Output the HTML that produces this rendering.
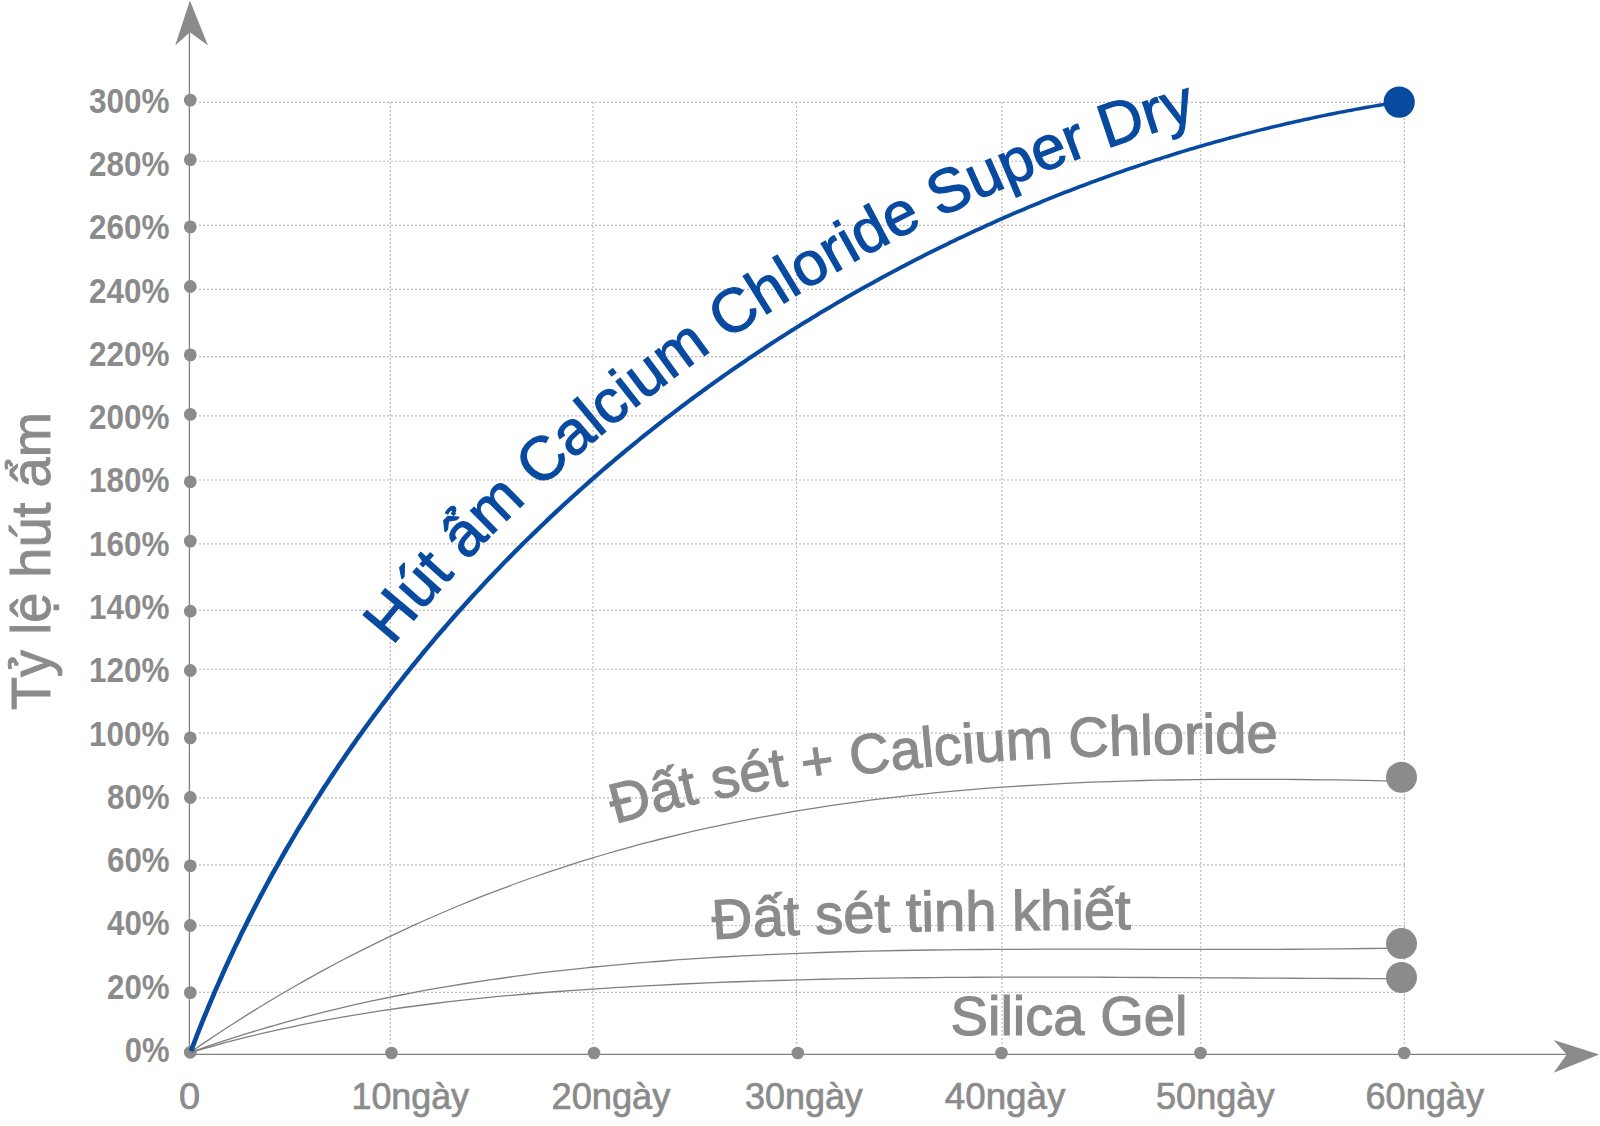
<!DOCTYPE html>
<html lang="vi"><head><meta charset="utf-8"><title>Tỷ lệ hút ẩm</title>
<style>html,body{margin:0;padding:0;background:#fff}svg{display:block}</style></head>
<body>
<svg width="1600" height="1126" viewBox="0 0 1600 1126">
<rect width="1600" height="1126" fill="#fff"/>
<g stroke="#bcbcbc" stroke-width="1.15" stroke-dasharray="2 2" fill="none">
<line x1="199" y1="102.3" x2="1405" y2="102.3"/>
<line x1="199" y1="161.2" x2="1405" y2="161.2"/>
<line x1="199" y1="225.3" x2="1405" y2="225.3"/>
<line x1="199" y1="289.4" x2="1405" y2="289.4"/>
<line x1="199" y1="356.6" x2="1405" y2="356.6"/>
<line x1="199" y1="415.8" x2="1405" y2="415.8"/>
<line x1="199" y1="480.0" x2="1405" y2="480.0"/>
<line x1="199" y1="543.8" x2="1405" y2="543.8"/>
<line x1="199" y1="610.4" x2="1405" y2="610.4"/>
<line x1="199" y1="669.2" x2="1405" y2="669.2"/>
<line x1="199" y1="733.1" x2="1405" y2="733.1"/>
<line x1="199" y1="797.9" x2="1405" y2="797.9"/>
<line x1="199" y1="864.8" x2="1405" y2="864.8"/>
<line x1="199" y1="925.5" x2="1405" y2="925.5"/>
<line x1="199" y1="992.3" x2="1405" y2="992.3"/>
<line x1="390.3" y1="102" x2="390.3" y2="1046"/>
<line x1="593.0" y1="102" x2="593.0" y2="1046"/>
<line x1="796.5" y1="102" x2="796.5" y2="1046"/>
<line x1="1002.0" y1="102" x2="1002.0" y2="1046"/>
<line x1="1200.8" y1="102" x2="1200.8" y2="1046"/>
<line x1="1404.4" y1="102" x2="1404.4" y2="1046"/>
</g>
<g stroke="#808080" stroke-width="1.3" fill="none">
<line x1="189.4" y1="30" x2="189.4" y2="1054"/>
<line x1="189" y1="1054.35" x2="1568" y2="1054.35"/>
</g>
<g fill="#8b8b8b">
<path d="M189.9 0.5L208 45.5L189.9 32.3L175.2 45.5Z"/>
<path d="M1599.2 1054.4L1553.7 1040L1566.7 1054.4L1553.7 1072.7Z"/>
<circle cx="190.3" cy="100.1" r="6.4"/>
<circle cx="190.3" cy="159.7" r="6.4"/>
<circle cx="190.3" cy="226.9" r="6.4"/>
<circle cx="190.3" cy="286.5" r="6.4"/>
<circle cx="190.3" cy="354.9" r="6.4"/>
<circle cx="190.3" cy="414.4" r="6.4"/>
<circle cx="190.3" cy="481.8" r="6.4"/>
<circle cx="190.3" cy="541.1" r="6.4"/>
<circle cx="190.3" cy="611.2" r="6.4"/>
<circle cx="190.3" cy="670.5" r="6.4"/>
<circle cx="190.3" cy="737.9" r="6.4"/>
<circle cx="190.3" cy="797.5" r="6.4"/>
<circle cx="190.3" cy="865.8" r="6.4"/>
<circle cx="190.3" cy="925.5" r="6.4"/>
<circle cx="190.3" cy="992.6" r="6.4"/>
<circle cx="190.3" cy="1052.3" r="6.4"/>
<circle cx="391.5" cy="1053" r="6.3"/>
<circle cx="594.0" cy="1053" r="6.3"/>
<circle cx="797.8" cy="1053" r="6.3"/>
<circle cx="1001.5" cy="1053" r="6.3"/>
<circle cx="1200.5" cy="1053" r="6.3"/>
<circle cx="1404.2" cy="1053" r="6.3"/>
</g>
<g stroke="#808080" stroke-width="1.3" fill="none">
<path d="M190.0 1052.5C193.6 1050.1 204.3 1042.7 211.5 1037.9C218.7 1033.1 225.9 1028.3 233.2 1023.7C240.5 1019.0 247.8 1014.4 255.1 1009.9C262.5 1005.3 269.9 1000.9 277.3 996.5C284.7 992.1 292.2 987.8 299.7 983.5C307.1 979.2 314.7 975.1 322.2 970.9C329.8 966.8 337.4 962.8 345.0 958.8C352.7 954.8 360.3 950.9 368.0 947.1C375.7 943.3 383.4 939.5 391.2 935.8C399.0 932.1 406.8 928.5 414.6 924.9C422.4 921.4 430.2 917.9 438.1 914.5C446.0 911.1 453.9 907.7 461.8 904.5C469.8 901.2 477.7 898.0 485.7 894.9C493.7 891.8 501.7 888.7 509.8 885.8C517.8 882.8 525.9 879.9 534.0 877.0C542.0 874.2 550.2 871.4 558.3 868.8C566.4 866.1 574.6 863.5 582.8 860.9C591.0 858.4 599.2 855.9 607.4 853.5C615.6 851.1 623.9 848.8 632.1 846.6C640.4 844.3 648.7 842.2 657.0 840.0C665.3 837.9 673.6 835.9 681.9 833.9C690.3 831.9 698.7 830.0 707.0 828.2C715.4 826.4 723.8 824.6 732.2 822.9C740.6 821.1 749.0 819.5 757.5 817.9C765.9 816.3 774.4 814.8 782.8 813.3C791.3 811.8 799.8 810.4 808.3 809.1C816.8 807.7 825.3 806.4 833.8 805.2C842.3 803.9 850.8 802.7 859.4 801.6C867.9 800.5 876.5 799.4 885.0 798.3C893.6 797.3 902.2 796.3 910.7 795.4C919.3 794.5 927.9 793.6 936.5 792.7C945.1 791.9 953.7 791.1 962.3 790.4C970.9 789.6 979.5 788.9 988.1 788.2C996.7 787.6 1005.3 787.0 1014.0 786.4C1022.6 785.8 1031.2 785.3 1039.9 784.8C1048.5 784.3 1057.1 783.8 1065.8 783.4C1074.4 783.0 1083.0 782.6 1091.7 782.2C1100.3 781.9 1108.9 781.6 1117.6 781.3C1126.2 781.0 1134.9 780.8 1143.5 780.5C1152.1 780.3 1160.8 780.1 1169.4 780.0C1178.0 779.8 1186.6 779.7 1195.3 779.6C1203.9 779.5 1212.5 779.4 1221.1 779.4C1229.7 779.3 1238.4 779.3 1247.0 779.3C1255.6 779.3 1264.2 779.3 1272.8 779.3C1281.4 779.4 1289.9 779.4 1298.5 779.5C1307.1 779.6 1315.7 779.7 1324.2 779.8C1332.8 779.9 1341.3 780.0 1349.9 780.2C1358.4 780.3 1367.0 780.5 1375.5 780.6C1384.0 780.8 1396.7 781.1 1401.0 781.2"/>
<path d="M190.0 1052.5C195.0 1050.8 209.9 1045.5 219.8 1042.2C229.8 1038.9 239.8 1035.7 249.8 1032.6C259.8 1029.6 269.8 1026.6 279.8 1023.8C289.9 1021.0 300.0 1018.2 310.0 1015.6C320.1 1013.0 330.2 1010.5 340.4 1008.1C350.5 1005.7 360.6 1003.4 370.8 1001.2C380.9 999.1 391.1 997.0 401.3 995.0C411.5 993.0 421.7 991.0 431.9 989.2C442.2 987.4 452.4 985.7 462.7 984.0C472.9 982.4 483.2 980.8 493.5 979.3C503.8 977.8 514.1 976.4 524.4 975.1C534.7 973.7 545.0 972.4 555.4 971.2C565.7 970.0 576.0 968.9 586.4 967.8C596.8 966.8 607.1 965.7 617.5 964.8C627.9 963.8 638.3 962.9 648.7 962.1C659.1 961.2 669.5 960.5 679.9 959.7C690.3 959.0 700.8 958.3 711.2 957.6C721.6 957.0 732.1 956.4 742.5 955.9C753.0 955.3 763.4 954.8 773.9 954.3C784.3 953.9 794.8 953.5 805.3 953.1C815.8 952.7 826.2 952.3 836.7 952.0C847.2 951.7 857.7 951.4 868.2 951.2C878.6 950.9 889.1 950.7 899.6 950.5C910.1 950.3 920.6 950.1 931.1 950.0C941.6 949.9 952.1 949.7 962.6 949.6C973.1 949.5 983.6 949.5 994.1 949.4C1004.6 949.3 1015.1 949.3 1025.6 949.3C1036.1 949.2 1046.5 949.2 1057.0 949.2C1067.5 949.2 1078.0 949.2 1088.5 949.2C1099.0 949.2 1109.5 949.2 1119.9 949.2C1130.4 949.3 1140.9 949.3 1151.3 949.3C1161.8 949.3 1172.3 949.3 1182.7 949.4C1193.2 949.4 1203.6 949.4 1214.1 949.4C1224.5 949.4 1234.9 949.4 1245.3 949.4C1255.8 949.4 1266.2 949.3 1276.6 949.3C1287.0 949.3 1297.4 949.2 1307.8 949.2C1318.2 949.1 1328.6 949.0 1338.9 948.9C1349.3 948.8 1359.7 948.7 1370.0 948.5C1380.3 948.4 1395.8 948.1 1401.0 948.0"/>
<path d="M190.0 1052.5C195.0 1051.1 210.2 1046.7 220.3 1044.0C230.3 1041.2 240.5 1038.7 250.6 1036.2C260.7 1033.7 270.9 1031.4 281.0 1029.2C291.2 1027.0 301.3 1024.8 311.5 1022.8C321.7 1020.8 331.9 1019.0 342.1 1017.2C352.3 1015.4 362.5 1013.7 372.8 1012.1C383.0 1010.5 393.2 1009.0 403.5 1007.5C413.7 1006.1 424.0 1004.8 434.3 1003.5C444.5 1002.2 454.8 1001.0 465.1 999.9C475.4 998.8 485.7 997.7 496.0 996.7C506.3 995.8 516.7 994.8 527.0 994.0C537.3 993.1 547.7 992.3 558.0 991.5C568.4 990.7 578.7 990.0 589.1 989.3C599.4 988.6 609.8 987.9 620.2 987.3C630.5 986.7 640.9 986.1 651.3 985.6C661.7 985.0 672.1 984.5 682.5 984.0C692.9 983.5 703.3 983.1 713.7 982.7C724.1 982.2 734.5 981.8 744.9 981.5C755.4 981.1 765.8 980.8 776.2 980.5C786.6 980.2 797.1 979.9 807.5 979.6C817.9 979.4 828.4 979.1 838.8 978.9C849.2 978.7 859.7 978.5 870.1 978.3C880.6 978.2 891.0 978.0 901.4 977.9C911.9 977.8 922.3 977.7 932.8 977.6C943.2 977.5 953.7 977.4 964.1 977.3C974.5 977.3 985.0 977.2 995.4 977.2C1005.9 977.2 1016.3 977.1 1026.8 977.1C1037.2 977.1 1047.6 977.1 1058.1 977.1C1068.5 977.1 1079.0 977.2 1089.4 977.2C1099.8 977.2 1110.3 977.3 1120.7 977.3C1131.1 977.4 1141.5 977.4 1152.0 977.5C1162.4 977.5 1172.8 977.6 1183.2 977.6C1193.6 977.7 1204.0 977.8 1214.4 977.8C1224.8 977.9 1235.2 977.9 1245.6 978.0C1256.0 978.1 1266.4 978.1 1276.8 978.2C1287.2 978.2 1297.5 978.3 1307.9 978.3C1318.3 978.4 1328.6 978.4 1339.0 978.5C1349.3 978.5 1359.7 978.5 1370.0 978.6C1380.4 978.6 1395.8 978.6 1401.0 978.6"/>
</g>
<g fill="#8b8b8b">
<circle cx="1401.5" cy="777.3" r="15.5"/>
<circle cx="1401.5" cy="943.6" r="15.5"/>
<circle cx="1401.5" cy="977.5" r="15.5"/>
</g>
<path d="M188.8 1050.2L190.2 1046.4L191.7 1042.6L193.1 1038.9L194.6 1035.1L196.0 1031.3L197.5 1027.6L199.0 1023.8L200.5 1020.1L202.0 1016.3L203.6 1012.6L205.1 1008.9L206.6 1005.1L208.2 1001.4L209.8 997.7L211.4 994.0L212.9 990.3L214.6 986.6L216.2 982.9L217.8 979.2L219.4 975.5L221.1 971.8L222.7 968.1L224.4 964.4L226.1 960.8L227.8 957.1L229.5 953.5L231.2 949.8L232.9 946.1L234.7 942.5L236.4 938.9L238.2 935.2L239.9 931.6L241.7 928.0L243.5 924.4L245.3 920.7L247.1 917.1L248.9 913.5L250.8 909.9L252.6 906.3L254.5 902.8L256.3 899.2L258.2 895.6L260.1 892.0L262.0 888.5L263.9 884.9L265.8 881.4L267.7 877.8L269.7 874.3L271.6 870.7L273.6 867.2L275.6 863.7L277.5 860.2L279.5 856.7L281.5 853.1L283.5 849.6L285.6 846.1L287.6 842.7L289.6 839.2L291.7 835.7L293.7 832.2L295.8 828.8L297.9 825.3L300.0 821.8L302.1 818.4L304.2 815.0L306.3 811.5L308.4 808.1L310.6 804.7L312.7 801.3L314.9 797.8L317.1 794.4L319.2 791.0L321.4 787.6L323.6 784.3L325.8 780.9L328.0 777.5L330.3 774.1L332.5 770.8L334.8 767.4L337.0 764.1L339.3 760.7L341.6 757.4L343.8 754.1L346.1 750.8L348.4 747.4L350.7 744.1L353.1 740.8L355.4 737.5L357.7 734.2L360.1 731.0L362.4 727.7L364.8 724.4L367.2 721.2L369.6 717.9L372.0 714.6L374.4 711.4L376.8 708.2L379.2 704.9L381.6 701.7L384.1 698.5L386.5 695.3L389.0 692.1L391.5 688.9L393.9 685.7L396.4 682.5L398.9 679.4L401.4 676.2L403.9 673.0L406.4 669.9L409.0 666.7L411.5 663.6L414.1 660.5L416.6 657.3L419.2 654.2L421.7 651.1L424.3 648.0L426.9 644.9L429.5 641.8L432.1 638.7L434.7 635.6L437.3 632.6L440.0 629.5L442.6 626.5L445.3 623.4L447.9 620.4L450.6 617.3L453.2 614.3L455.9 611.3L458.6 608.3L461.3 605.3L464.0 602.3L466.7 599.3L469.4 596.3L472.2 593.3L474.9 590.4L477.7 587.4L480.4 584.5L483.2 581.5L485.9 578.6L488.7 575.6L491.5 572.7L494.3 569.8L497.1 566.9L499.9 564.0L502.7 561.1L505.5 558.2L508.3 555.3L511.2 552.5L514.0 549.6L516.9 546.7L519.7 543.9L522.6 541.1L525.5 538.2L528.4 535.4L531.3 532.6L534.2 529.8L537.1 527.0L540.0 524.2L542.9 521.4L545.8 518.6L548.7 515.8L551.7 513.1L554.6 510.3L557.6 507.6L560.6 504.8L563.5 502.1L566.5 499.4L569.5 496.6L572.5 493.9L575.5 491.2L578.5 488.5L581.5 485.9L584.5 483.2L587.5 480.5L590.6 477.8L593.6 475.2L596.7 472.5L599.7 469.9L602.8 467.3L605.8 464.6L608.9 462.0L612.0 459.4L615.1 456.8L618.2 454.2L621.3 451.6L624.4 449.1L627.5 446.5L630.6 443.9L633.7 441.4L636.9 438.9L640.0 436.3L643.1 433.8L646.3 431.3L649.5 428.8L652.6 426.3L655.8 423.8L659.0 421.3L662.2 418.8L665.4 416.3L668.5 413.9L671.8 411.4L675.0 409.0L678.2 406.5L681.4 404.1L684.6 401.7L687.9 399.3L691.1 396.8L694.3 394.5L697.6 392.1L700.9 389.7L704.1 387.3L707.4 384.9L710.7 382.6L714.0 380.2L717.2 377.9L720.5 375.6L723.8 373.2L727.1 370.9L730.5 368.6L733.8 366.3L737.1 364.0L740.4 361.8L743.8 359.5L747.1 357.2L750.4 355.0L753.8 352.7L757.2 350.5L760.5 348.3L763.9 346.0L767.3 343.8L770.6 341.6L774.0 339.4L777.4 337.2L780.8 335.0L784.2 332.9L787.6 330.7L791.0 328.6L794.4 326.4L797.9 324.3L801.3 322.1L804.7 320.0L808.2 317.9L811.6 315.8L815.1 313.7L818.5 311.6L822.0 309.6L825.4 307.5L828.9 305.4L832.4 303.4L835.9 301.3L839.4 299.3L842.8 297.3L846.3 295.3L849.8 293.3L853.3 291.3L856.9 289.3L860.4 287.3L863.9 285.3L867.4 283.4L871.0 281.4L874.5 279.5L878.0 277.5L881.6 275.6L885.1 273.7L888.7 271.8L892.2 269.9L895.8 268.0L899.4 266.1L902.9 264.2L906.5 262.3L910.1 260.5L913.7 258.6L917.3 256.8L920.9 255.0L924.5 253.1L928.1 251.3L931.7 249.5L935.3 247.7L938.9 245.9L942.5 244.2L946.2 242.4L949.8 240.6L953.4 238.9L957.1 237.1L960.7 235.4L964.4 233.7L968.0 232.0L971.7 230.3L975.3 228.6L979.0 226.9L982.7 225.2L986.3 223.5L990.0 221.9L993.7 220.2L997.4 218.6L1001.1 217.0L1004.8 215.3L1008.5 213.7L1012.2 212.1L1015.9 210.5L1019.6 208.9L1023.3 207.4L1027.0 205.8L1030.8 204.2L1034.5 202.7L1038.2 201.2L1041.9 199.6L1045.7 198.1L1049.4 196.6L1053.2 195.1L1056.9 193.6L1060.7 192.1L1064.4 190.6L1068.2 189.2L1071.9 187.7L1075.7 186.3L1079.5 184.8L1083.3 183.4L1087.0 182.0L1090.8 180.6L1094.6 179.2L1098.4 177.8L1102.2 176.4L1106.0 175.1L1109.8 173.7L1113.6 172.3L1117.4 171.0L1121.2 169.7L1125.0 168.3L1128.8 167.0L1132.6 165.7L1136.5 164.4L1140.3 163.2L1144.1 161.9L1147.9 160.6L1151.8 159.4L1155.6 158.1L1159.5 156.9L1163.3 155.7L1167.2 154.4L1171.0 153.2L1174.9 152.0L1178.7 150.8L1182.6 149.7L1186.4 148.5L1190.3 147.3L1194.2 146.2L1198.0 145.1L1201.9 143.9L1205.8 142.8L1209.7 141.7L1213.6 140.6L1217.4 139.5L1221.3 138.4L1225.2 137.4L1229.1 136.3L1233.0 135.3L1236.9 134.2L1240.8 133.2L1244.7 132.2L1248.6 131.2L1252.5 130.2L1256.4 129.2L1260.4 128.2L1264.3 127.2L1268.2 126.3L1272.1 125.3L1276.0 124.4L1280.0 123.5L1283.9 122.5L1287.8 121.6L1291.8 120.7L1295.7 119.8L1299.6 119.0L1303.6 118.1L1307.5 117.2L1311.5 116.4L1315.4 115.5L1319.3 114.7L1323.3 113.9L1327.3 113.1L1331.2 112.3L1335.2 111.5L1339.1 110.7L1343.1 110.0L1347.1 109.2L1351.0 108.5L1355.0 107.7L1359.0 107.0L1362.9 106.3L1366.9 105.6L1370.9 104.9L1374.8 104.2L1378.8 103.5L1382.8 102.9L1386.8 102.2L1390.8 101.6L1394.8 101.0L1398.7 100.3L1399.3 103.7L1395.3 104.3L1391.3 105.0L1387.3 105.6L1383.4 106.3L1379.4 106.9L1375.4 107.6L1371.5 108.3L1367.5 109.0L1363.5 109.7L1359.6 110.4L1355.6 111.1L1351.7 111.9L1347.7 112.6L1343.7 113.4L1339.8 114.1L1335.8 114.9L1331.9 115.7L1327.9 116.5L1324.0 117.3L1320.1 118.1L1316.1 119.0L1312.2 119.8L1308.3 120.7L1304.3 121.5L1300.4 122.4L1296.5 123.3L1292.5 124.2L1288.6 125.1L1284.7 126.0L1280.8 126.9L1276.9 127.8L1272.9 128.8L1269.0 129.7L1265.1 130.7L1261.2 131.6L1257.3 132.6L1253.4 133.6L1249.5 134.6L1245.6 135.6L1241.7 136.6L1237.8 137.7L1233.9 138.7L1230.0 139.8L1226.2 140.8L1222.3 141.9L1218.4 143.0L1214.5 144.1L1210.7 145.2L1206.8 146.3L1202.9 147.4L1199.1 148.5L1195.2 149.7L1191.3 150.8L1187.5 152.0L1183.6 153.1L1179.8 154.3L1175.9 155.5L1172.1 156.7L1168.3 157.9L1164.4 159.1L1160.6 160.4L1156.7 161.6L1152.9 162.8L1149.1 164.1L1145.3 165.4L1141.5 166.6L1137.6 167.9L1133.8 169.2L1130.0 170.5L1126.2 171.8L1122.4 173.2L1118.6 174.5L1114.8 175.8L1111.0 177.2L1107.2 178.5L1103.5 179.9L1099.7 181.3L1095.9 182.7L1092.1 184.1L1088.3 185.5L1084.6 186.9L1080.8 188.3L1077.1 189.8L1073.3 191.2L1069.5 192.7L1065.8 194.1L1062.0 195.6L1058.3 197.1L1054.6 198.6L1050.8 200.1L1047.1 201.6L1043.4 203.1L1039.7 204.7L1035.9 206.2L1032.2 207.7L1028.5 209.3L1024.8 210.9L1021.1 212.4L1017.4 214.0L1013.7 215.6L1010.0 217.2L1006.3 218.8L1002.6 220.5L999.0 222.1L995.3 223.7L991.6 225.4L987.9 227.0L984.3 228.7L980.6 230.4L977.0 232.1L973.3 233.8L969.7 235.5L966.0 237.2L962.4 238.9L958.7 240.6L955.1 242.4L951.5 244.1L947.9 245.9L944.2 247.7L940.6 249.4L937.0 251.2L933.4 253.0L929.8 254.8L926.2 256.6L922.6 258.4L919.1 260.3L915.5 262.1L911.9 264.0L908.3 265.8L904.8 267.7L901.2 269.6L897.6 271.4L894.1 273.3L890.5 275.2L887.0 277.1L883.5 279.1L879.9 281.0L876.4 282.9L872.9 284.9L869.4 286.8L865.8 288.8L862.3 290.8L858.8 292.7L855.3 294.7L851.8 296.7L848.3 298.7L844.8 300.7L841.4 302.8L837.9 304.8L834.4 306.8L831.0 308.9L827.5 310.9L824.0 313.0L820.6 315.1L817.2 317.2L813.7 319.3L810.3 321.4L806.9 323.5L803.4 325.6L800.0 327.7L796.6 329.8L793.2 332.0L789.8 334.1L786.4 336.3L783.0 338.5L779.6 340.6L776.2 342.8L772.9 345.0L769.5 347.2L766.1 349.4L762.8 351.7L759.4 353.9L756.1 356.1L752.7 358.4L749.4 360.6L746.1 362.9L742.7 365.2L739.4 367.4L736.1 369.7L732.8 372.0L729.5 374.3L726.2 376.6L722.9 378.9L719.6 381.3L716.4 383.6L713.1 386.0L709.8 388.3L706.6 390.7L703.3 393.0L700.1 395.4L696.8 397.8L693.6 400.2L690.3 402.6L687.1 405.0L683.9 407.4L680.7 409.8L677.5 412.3L674.3 414.7L671.1 417.2L667.9 419.6L664.7 422.1L661.6 424.6L658.4 427.1L655.2 429.6L652.1 432.1L648.9 434.6L645.8 437.1L642.6 439.6L639.5 442.1L636.4 444.7L633.3 447.2L630.2 449.8L627.1 452.3L624.0 454.9L620.9 457.5L617.8 460.1L614.7 462.7L611.7 465.3L608.6 467.9L605.5 470.5L602.5 473.1L599.4 475.8L596.4 478.4L593.4 481.1L590.4 483.7L587.3 486.4L584.3 489.0L581.3 491.7L578.3 494.4L575.3 497.1L572.4 499.8L569.4 502.5L566.4 505.3L563.5 508.0L560.5 510.7L557.6 513.5L554.6 516.2L551.7 519.0L548.8 521.7L545.9 524.5L543.0 527.3L540.1 530.1L537.2 532.9L534.3 535.7L531.4 538.5L528.5 541.3L525.7 544.1L522.8 547.0L520.0 549.8L517.1 552.7L514.3 555.5L511.5 558.4L508.6 561.3L505.8 564.1L503.0 567.0L500.2 569.9L497.4 572.8L494.7 575.7L491.9 578.7L489.1 581.6L486.4 584.5L483.6 587.4L480.9 590.4L478.1 593.3L475.4 596.3L472.7 599.3L470.0 602.3L467.3 605.2L464.6 608.2L461.9 611.2L459.2 614.2L456.6 617.2L453.9 620.3L451.2 623.3L448.6 626.3L446.0 629.4L443.3 632.4L440.7 635.5L438.1 638.5L435.5 641.6L432.9 644.7L430.3 647.7L427.7 650.8L425.2 653.9L422.6 657.0L420.1 660.2L417.5 663.3L415.0 666.4L412.4 669.5L409.9 672.7L407.4 675.8L404.9 679.0L402.4 682.1L399.9 685.3L397.5 688.5L395.0 691.6L392.5 694.8L390.1 698.0L387.7 701.2L385.2 704.4L382.8 707.6L380.4 710.9L378.0 714.1L375.6 717.3L373.2 720.6L370.8 723.8L368.5 727.1L366.1 730.3L363.8 733.6L361.4 736.9L359.1 740.1L356.8 743.4L354.5 746.7L352.2 750.0L349.9 753.3L347.6 756.6L345.3 760.0L343.0 763.3L340.8 766.6L338.5 770.0L336.3 773.3L334.1 776.7L331.8 780.0L329.6 783.4L327.4 786.7L325.3 790.1L323.1 793.5L320.9 796.9L318.7 800.3L316.6 803.7L314.4 807.1L312.3 810.5L310.2 813.9L308.1 817.4L306.0 820.8L303.9 824.2L301.8 827.7L299.7 831.1L297.7 834.6L295.6 838.0L293.6 841.5L291.6 845.0L289.5 848.5L287.5 851.9L285.5 855.4L283.5 858.9L281.5 862.4L279.6 865.9L277.6 869.4L275.7 873.0L273.7 876.5L271.8 880.0L269.9 883.6L268.0 887.1L266.1 890.6L264.2 894.2L262.3 897.8L260.4 901.3L258.6 904.9L256.7 908.5L254.9 912.0L253.1 915.6L251.3 919.2L249.5 922.8L247.7 926.4L245.9 930.0L244.1 933.6L242.3 937.3L240.6 940.9L238.9 944.5L237.1 948.1L235.4 951.8L233.7 955.4L232.0 959.1L230.3 962.7L228.6 966.4L227.0 970.0L225.3 973.7L223.7 977.4L222.1 981.1L220.4 984.7L218.8 988.4L217.2 992.1L215.7 995.8L214.1 999.5L212.5 1003.2L211.0 1006.9L209.4 1010.7L207.9 1014.4L206.4 1018.1L204.9 1021.8L203.4 1025.6L201.9 1029.3L200.4 1033.1L198.9 1036.8L197.5 1040.6L196.1 1044.3L194.6 1048.1L193.2 1051.8Z" fill="#084aa0"/>
<circle cx="1399.2" cy="102.1" r="15.6" fill="#084aa0"/>
<g font-family="'Liberation Sans', sans-serif" font-weight="bold" font-size="35" fill="#8b8b8b" text-anchor="end">
<text x="169.6" y="112.8" textLength="80.5" lengthAdjust="spacingAndGlyphs">300%</text>
<text x="169.6" y="176.1" textLength="80.5" lengthAdjust="spacingAndGlyphs">280%</text>
<text x="169.6" y="239.3" textLength="80.5" lengthAdjust="spacingAndGlyphs">260%</text>
<text x="169.6" y="302.6" textLength="80.5" lengthAdjust="spacingAndGlyphs">240%</text>
<text x="169.6" y="365.9" textLength="80.5" lengthAdjust="spacingAndGlyphs">220%</text>
<text x="169.6" y="429.2" textLength="80.5" lengthAdjust="spacingAndGlyphs">200%</text>
<text x="169.6" y="492.4" textLength="80.5" lengthAdjust="spacingAndGlyphs">180%</text>
<text x="169.6" y="555.7" textLength="80.5" lengthAdjust="spacingAndGlyphs">160%</text>
<text x="169.6" y="619.0" textLength="80.5" lengthAdjust="spacingAndGlyphs">140%</text>
<text x="169.6" y="682.2" textLength="80.5" lengthAdjust="spacingAndGlyphs">120%</text>
<text x="169.6" y="745.5" textLength="80.5" lengthAdjust="spacingAndGlyphs">100%</text>
<text x="169.6" y="808.8" textLength="62.6" lengthAdjust="spacingAndGlyphs">80%</text>
<text x="169.6" y="872.0" textLength="62.6" lengthAdjust="spacingAndGlyphs">60%</text>
<text x="169.6" y="935.3" textLength="62.6" lengthAdjust="spacingAndGlyphs">40%</text>
<text x="169.6" y="998.6" textLength="62.6" lengthAdjust="spacingAndGlyphs">20%</text>
<text x="169.6" y="1061.9" textLength="44.8" lengthAdjust="spacingAndGlyphs">0%</text>
</g>
<g font-family="'Liberation Sans', sans-serif" font-size="36" fill="#8b8b8b" stroke="#8b8b8b" stroke-width="0.7">
<text x="179.1" y="1108.8" textLength="21.1" lengthAdjust="spacingAndGlyphs">0</text>
<text x="351.5" y="1108.8" textLength="117.5" lengthAdjust="spacingAndGlyphs">10ngày</text>
<text x="551.5" y="1108.8" textLength="118.8" lengthAdjust="spacingAndGlyphs">20ngày</text>
<text x="745.0" y="1108.8" textLength="117.8" lengthAdjust="spacingAndGlyphs">30ngày</text>
<text x="944.8" y="1108.8" textLength="120.5" lengthAdjust="spacingAndGlyphs">40ngày</text>
<text x="1156.0" y="1108.8" textLength="118.5" lengthAdjust="spacingAndGlyphs">50ngày</text>
<text x="1365.5" y="1108.8" textLength="118.5" lengthAdjust="spacingAndGlyphs">60ngày</text>
</g>
<text transform="translate(49.5 710) rotate(-90)" font-family="'Liberation Sans', sans-serif" font-size="55" fill="#8b8b8b" stroke="#8b8b8b" stroke-width="0.9" textLength="297.8" lengthAdjust="spacingAndGlyphs">Tỷ lệ hút ẩm</text>
<defs>
<path id="bluetp" d="M392.4 646.2C394.7 643.4 401.6 634.9 406.3 629.4C411.0 623.8 415.7 618.2 420.5 612.7C425.2 607.2 430.0 601.7 434.9 596.3C439.7 590.8 444.6 585.4 449.5 580.0C454.4 574.7 459.4 569.3 464.4 564.0C469.3 558.7 474.4 553.5 479.4 548.2C484.5 543.0 489.6 537.8 494.7 532.6C499.9 527.5 505.1 522.4 510.3 517.3C515.5 512.2 520.7 507.1 526.0 502.1C531.3 497.1 536.6 492.2 541.9 487.2C547.3 482.3 552.7 477.4 558.1 472.5C563.5 467.7 568.9 462.8 574.4 458.0C579.9 453.3 585.4 448.5 591.0 443.8C596.5 439.1 602.1 434.4 607.7 429.8C613.3 425.2 619.0 420.6 624.6 416.0C630.3 411.5 636.0 406.9 641.7 402.5C647.5 398.0 653.2 393.5 659.0 389.2C664.8 384.8 670.6 380.4 676.5 376.1C682.3 371.8 688.2 367.5 694.1 363.2C700.0 359.0 706.0 354.8 711.9 350.6C717.9 346.5 723.9 342.4 729.9 338.3C735.9 334.2 742.0 330.2 748.1 326.2C754.1 322.2 760.2 318.2 766.4 314.3C772.5 310.4 778.6 306.5 784.8 302.7C791.0 298.8 797.2 295.0 803.4 291.3C809.7 287.5 815.9 283.8 822.2 280.2C828.5 276.5 834.8 272.9 841.1 269.3C847.4 265.7 853.8 262.1 860.1 258.6C866.5 255.1 872.9 251.7 879.3 248.3C885.7 244.9 892.2 241.5 898.6 238.2C905.1 234.8 911.6 231.5 918.1 228.3C924.6 225.0 931.1 221.8 937.7 218.7C944.2 215.5 950.8 212.4 957.4 209.3C963.9 206.3 970.6 203.2 977.2 200.3C983.8 197.3 990.5 194.3 997.1 191.4C1003.8 188.6 1010.5 185.7 1017.2 182.9C1023.9 180.1 1030.6 177.3 1037.3 174.6C1044.1 171.9 1050.8 169.2 1057.6 166.6C1064.4 164.0 1071.2 161.4 1078.0 158.9C1084.8 156.3 1091.6 153.8 1098.4 151.4C1105.3 148.9 1112.1 146.5 1119.0 144.2C1125.9 141.8 1132.8 139.5 1139.7 137.3C1146.6 135.0 1153.5 132.8 1160.5 130.6C1167.4 128.4 1174.3 126.3 1181.3 124.2C1188.3 122.2 1195.2 120.1 1202.2 118.1C1209.2 116.2 1216.2 114.2 1223.2 112.3C1230.3 110.4 1240.8 107.7 1244.3 106.7"/>
<path id="g1tp" d="M615.0 823.7C619.2 822.6 631.7 819.3 640.0 817.1C648.3 815.0 656.7 812.9 665.0 810.9C673.3 808.8 681.7 806.9 690.0 805.0C698.3 803.1 706.7 801.2 715.0 799.5C723.3 797.7 731.7 796.0 740.0 794.3C748.3 792.6 756.7 791.0 765.0 789.5C773.3 788.0 781.7 786.5 790.0 785.0C798.3 783.6 806.7 782.3 815.0 780.9C823.3 779.6 831.7 778.4 840.0 777.2C848.3 776.0 856.7 774.8 865.0 773.8C873.3 772.7 881.7 771.6 890.0 770.7C898.3 769.7 906.7 768.8 915.0 767.9C923.3 767.0 931.7 766.2 940.0 765.5C948.3 764.7 956.7 764.0 965.0 763.3C973.3 762.7 981.7 762.1 990.0 761.5C998.3 760.9 1006.7 760.4 1015.0 759.9C1023.3 759.4 1031.7 759.0 1040.0 758.5C1048.3 758.1 1056.7 757.8 1065.0 757.4C1073.3 757.0 1081.7 756.7 1090.0 756.4C1098.3 756.1 1106.7 755.9 1115.0 755.6C1123.3 755.4 1131.7 755.1 1140.0 754.9C1148.3 754.7 1156.7 754.5 1165.0 754.3C1173.3 754.1 1181.7 754.0 1190.0 753.8C1198.3 753.6 1206.7 753.5 1215.0 753.3C1223.3 753.2 1231.7 753.0 1240.0 752.9C1248.3 752.7 1256.7 752.6 1265.0 752.4C1273.3 752.2 1281.7 752.1 1290.0 751.9C1298.3 751.7 1306.7 751.5 1315.0 751.3C1323.3 751.1 1335.8 750.8 1340.0 750.7"/>
<path id="g2tp" d="M713.0 939.2C718.2 938.9 733.8 937.9 744.1 937.3C754.5 936.7 764.9 936.2 775.3 935.7C785.6 935.2 796.0 934.8 806.4 934.4C816.8 934.0 827.2 933.6 837.5 933.3C847.9 933.0 858.3 932.7 868.7 932.4C879.0 932.1 889.4 931.9 899.8 931.7C910.2 931.5 920.6 931.3 930.9 931.1C941.3 931.0 951.7 930.8 962.1 930.7C972.4 930.6 982.8 930.5 993.2 930.4C1003.6 930.3 1014.0 930.2 1024.3 930.1C1034.7 930.0 1045.1 929.9 1055.5 929.8C1065.8 929.7 1076.2 929.7 1086.6 929.6C1097.0 929.5 1107.4 929.4 1117.7 929.3C1128.1 929.2 1138.5 929.1 1148.9 928.9C1159.2 928.8 1174.8 928.6 1180.0 928.5"/>
</defs>
<text font-family="'Liberation Sans', sans-serif" font-size="61.44" fill="#084aa0" stroke="#084aa0" stroke-width="1.2"><textPath href="#bluetp">Hút ẩm Calcium Chloride Super Dry</textPath></text>
<g font-family="'Liberation Sans', sans-serif" font-size="56.1" fill="#8b8b8b" stroke="#8b8b8b" stroke-width="1.2">
<text><textPath href="#g1tp">Đất sét + Calcium Chloride</textPath></text>
<text><textPath href="#g2tp">Đất sét tinh khiết</textPath></text>
<text x="950.5" y="1035">Silica Gel</text>
</g>
</svg>
</body></html>
